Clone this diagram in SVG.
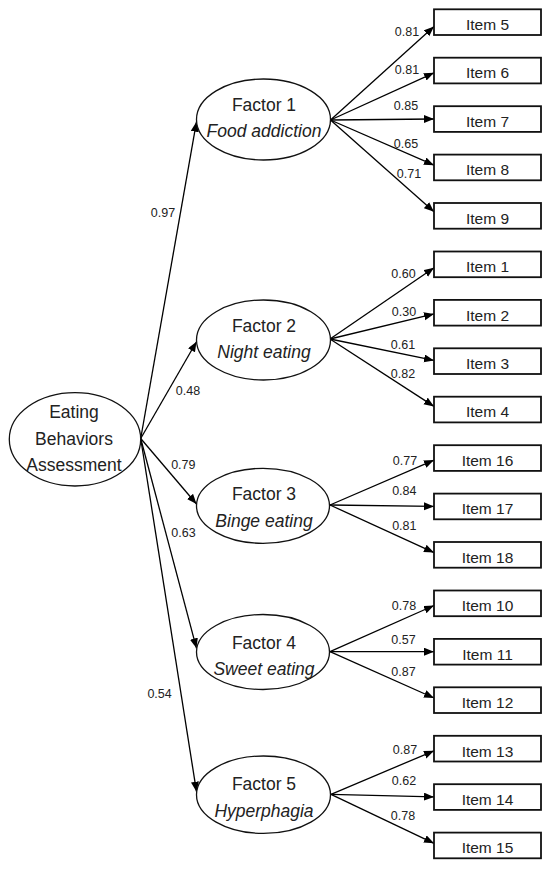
<svg xmlns="http://www.w3.org/2000/svg" width="550" height="871" viewBox="0 0 550 871">
<defs>
<marker id="ah" markerUnits="userSpaceOnUse" markerWidth="11" markerHeight="9" refX="10" refY="4" orient="auto">
<path d="M0,0 L10,4 L0,8 z" fill="#000"/>
</marker>
<style>
.bg{fill:#fff}
.ell{fill:#fff;stroke:#111;stroke-width:1.3}
.box{fill:#fff;stroke:#111;stroke-width:1.8}
.conn line{stroke:#000;stroke-width:1.3;marker-end:url(#ah)}
.nt{font-family:"Liberation Sans",Arial,sans-serif;font-size:17.5px;fill:#222;text-anchor:middle}
.it{font-style:italic}
.bt{font-family:"Liberation Sans",Arial,sans-serif;font-size:15.5px;fill:#222;text-anchor:middle}
.lb{font-family:"Liberation Sans",Arial,sans-serif;font-size:12.5px;fill:#222;text-anchor:middle}
</style>
</defs>
<rect class="bg" x="0" y="0" width="550" height="871"/>

<g id="connectors" class="conn">
<line x1="140.7" y1="438.5" x2="196.5" y2="121.7"/>
<line x1="140.7" y1="438.5" x2="196.5" y2="341.7"/>
<line x1="140.7" y1="438.5" x2="196.5" y2="504"/>
<line x1="140.7" y1="438.5" x2="196.5" y2="648.3"/>
<line x1="140.7" y1="438.5" x2="196.5" y2="791.7"/>

<line x1="330.5" y1="120" x2="434" y2="26.6"/>
<line x1="330.5" y1="120" x2="434" y2="72.8"/>
<line x1="330.5" y1="120" x2="434" y2="119"/>
<line x1="330.5" y1="120" x2="434" y2="165.2"/>
<line x1="330.5" y1="120" x2="434" y2="211.8"/>

<line x1="330" y1="339" x2="434" y2="267.7"/>
<line x1="330" y1="339" x2="434" y2="313.9"/>
<line x1="330" y1="339" x2="434" y2="360.4"/>
<line x1="330" y1="339" x2="434" y2="406.4"/>

<line x1="330" y1="505" x2="434" y2="460.1"/>
<line x1="330" y1="505" x2="434" y2="506.4"/>
<line x1="330" y1="505" x2="434" y2="552.6"/>

<line x1="330" y1="651.7" x2="434" y2="605.5"/>
<line x1="330" y1="651.7" x2="434" y2="651.7"/>
<line x1="330" y1="651.7" x2="434" y2="698"/>

<line x1="331" y1="794.3" x2="434" y2="750.8"/>
<line x1="331" y1="794.3" x2="434" y2="796.9"/>
<line x1="331" y1="794.3" x2="434" y2="843.3"/>

<text class="lb" x="163" y="216.8">0.97</text>
<text class="lb" x="188" y="394.5">0.48</text>
<text class="lb" x="183.3" y="468.8">0.79</text>
<text class="lb" x="183.5" y="537">0.63</text>
<text class="lb" x="159.6" y="697.8">0.54</text>

<text class="lb" x="407" y="36">0.81</text>
<text class="lb" x="407" y="74">0.81</text>
<text class="lb" x="406" y="109.5">0.85</text>
<text class="lb" x="406" y="147.5">0.65</text>
<text class="lb" x="409" y="177.5">0.71</text>

<text class="lb" x="403.5" y="277.8">0.60</text>
<text class="lb" x="404" y="315.5">0.30</text>
<text class="lb" x="403" y="348.8">0.61</text>
<text class="lb" x="403" y="377.8">0.82</text>

<text class="lb" x="405" y="464.5">0.77</text>
<text class="lb" x="404.3" y="494.5">0.84</text>
<text class="lb" x="404.3" y="530">0.81</text>

<text class="lb" x="404" y="609.5">0.78</text>
<text class="lb" x="403.5" y="643.8">0.57</text>
<text class="lb" x="403.5" y="675.5">0.87</text>

<text class="lb" x="405" y="753.8">0.87</text>
<text class="lb" x="404" y="784.5">0.62</text>
<text class="lb" x="403" y="819.5">0.78</text>
</g>

<g id="eba">
<ellipse class="ell" cx="75" cy="439.3" rx="65.7" ry="46.7"/>
<text class="nt" x="74" y="418.3">Eating</text>
<text class="nt" x="74" y="445">Behaviors</text>
<text class="nt" x="74" y="470.7">Assessment</text>
</g>

<g id="factor1">
<ellipse class="ell" cx="263.5" cy="119.5" rx="67" ry="40.5"/>
<text class="nt" x="264" y="111">Factor 1</text>
<text class="nt it" x="264" y="136.7">Food addiction</text>
</g>
<g id="factor2">
<ellipse class="ell" cx="263.5" cy="340" rx="67" ry="40"/>
<text class="nt" x="264" y="332">Factor 2</text>
<text class="nt it" x="264" y="358">Night eating</text>
</g>
<g id="factor3">
<ellipse class="ell" cx="263" cy="505.8" rx="66.5" ry="37.5"/>
<text class="nt" x="264" y="500">Factor 3</text>
<text class="nt it" x="264" y="526.7">Binge eating</text>
</g>
<g id="factor4">
<ellipse class="ell" cx="263" cy="652" rx="66.5" ry="37.5"/>
<text class="nt" x="264" y="649">Factor 4</text>
<text class="nt it" x="264" y="675">Sweet eating</text>
</g>
<g id="factor5">
<ellipse class="ell" cx="263.5" cy="794.7" rx="67" ry="38.7"/>
<text class="nt" x="264" y="790">Factor 5</text>
<text class="nt it" x="264" y="816.7">Hyperphagia</text>
</g>

<g id="item5"><rect class="box" x="434" y="9.3" width="107" height="25.7"/><text class="bt" x="487.5" y="30">Item 5</text></g>
<g id="item6"><rect class="box" x="434" y="57.7" width="107" height="25.7"/><text class="bt" x="487.5" y="78.4">Item 6</text></g>
<g id="item7"><rect class="box" x="434" y="106.2" width="107" height="25.7"/><text class="bt" x="487.5" y="126.9">Item 7</text></g>
<g id="item8"><rect class="box" x="434" y="154.6" width="107" height="25.7"/><text class="bt" x="487.5" y="175.3">Item 8</text></g>
<g id="item9"><rect class="box" x="434" y="203" width="107" height="25.7"/><text class="bt" x="487.5" y="223.7">Item 9</text></g>
<g id="item1"><rect class="box" x="434" y="251.5" width="107" height="25.7"/><text class="bt" x="487.5" y="272.2">Item 1</text></g>
<g id="item2"><rect class="box" x="434" y="299.9" width="107" height="25.7"/><text class="bt" x="487.5" y="320.6">Item 2</text></g>
<g id="item3"><rect class="box" x="434" y="348.3" width="107" height="25.7"/><text class="bt" x="487.5" y="369">Item 3</text></g>
<g id="item4"><rect class="box" x="434" y="396.7" width="107" height="25.7"/><text class="bt" x="487.5" y="417.4">Item 4</text></g>
<g id="item16"><rect class="box" x="434" y="445.2" width="107" height="25.7"/><text class="bt" x="487.5" y="465.9">Item 16</text></g>
<g id="item17"><rect class="box" x="434" y="493.6" width="107" height="25.7"/><text class="bt" x="487.5" y="514.3">Item 17</text></g>
<g id="item18"><rect class="box" x="434" y="542" width="107" height="25.7"/><text class="bt" x="487.5" y="562.7">Item 18</text></g>
<g id="item10"><rect class="box" x="434" y="590.5" width="107" height="25.7"/><text class="bt" x="487.5" y="611.2">Item 10</text></g>
<g id="item11"><rect class="box" x="434" y="638.9" width="107" height="25.7"/><text class="bt" x="487.5" y="659.6">Item 11</text></g>
<g id="item12"><rect class="box" x="434" y="687.3" width="107" height="25.7"/><text class="bt" x="487.5" y="708">Item 12</text></g>
<g id="item13"><rect class="box" x="434" y="735.8" width="107" height="25.7"/><text class="bt" x="487.5" y="756.5">Item 13</text></g>
<g id="item14"><rect class="box" x="434" y="784.2" width="107" height="25.7"/><text class="bt" x="487.5" y="804.9">Item 14</text></g>
<g id="item15"><rect class="box" x="434" y="832.6" width="107" height="25.7"/><text class="bt" x="487.5" y="853.3">Item 15</text></g>
</svg>
